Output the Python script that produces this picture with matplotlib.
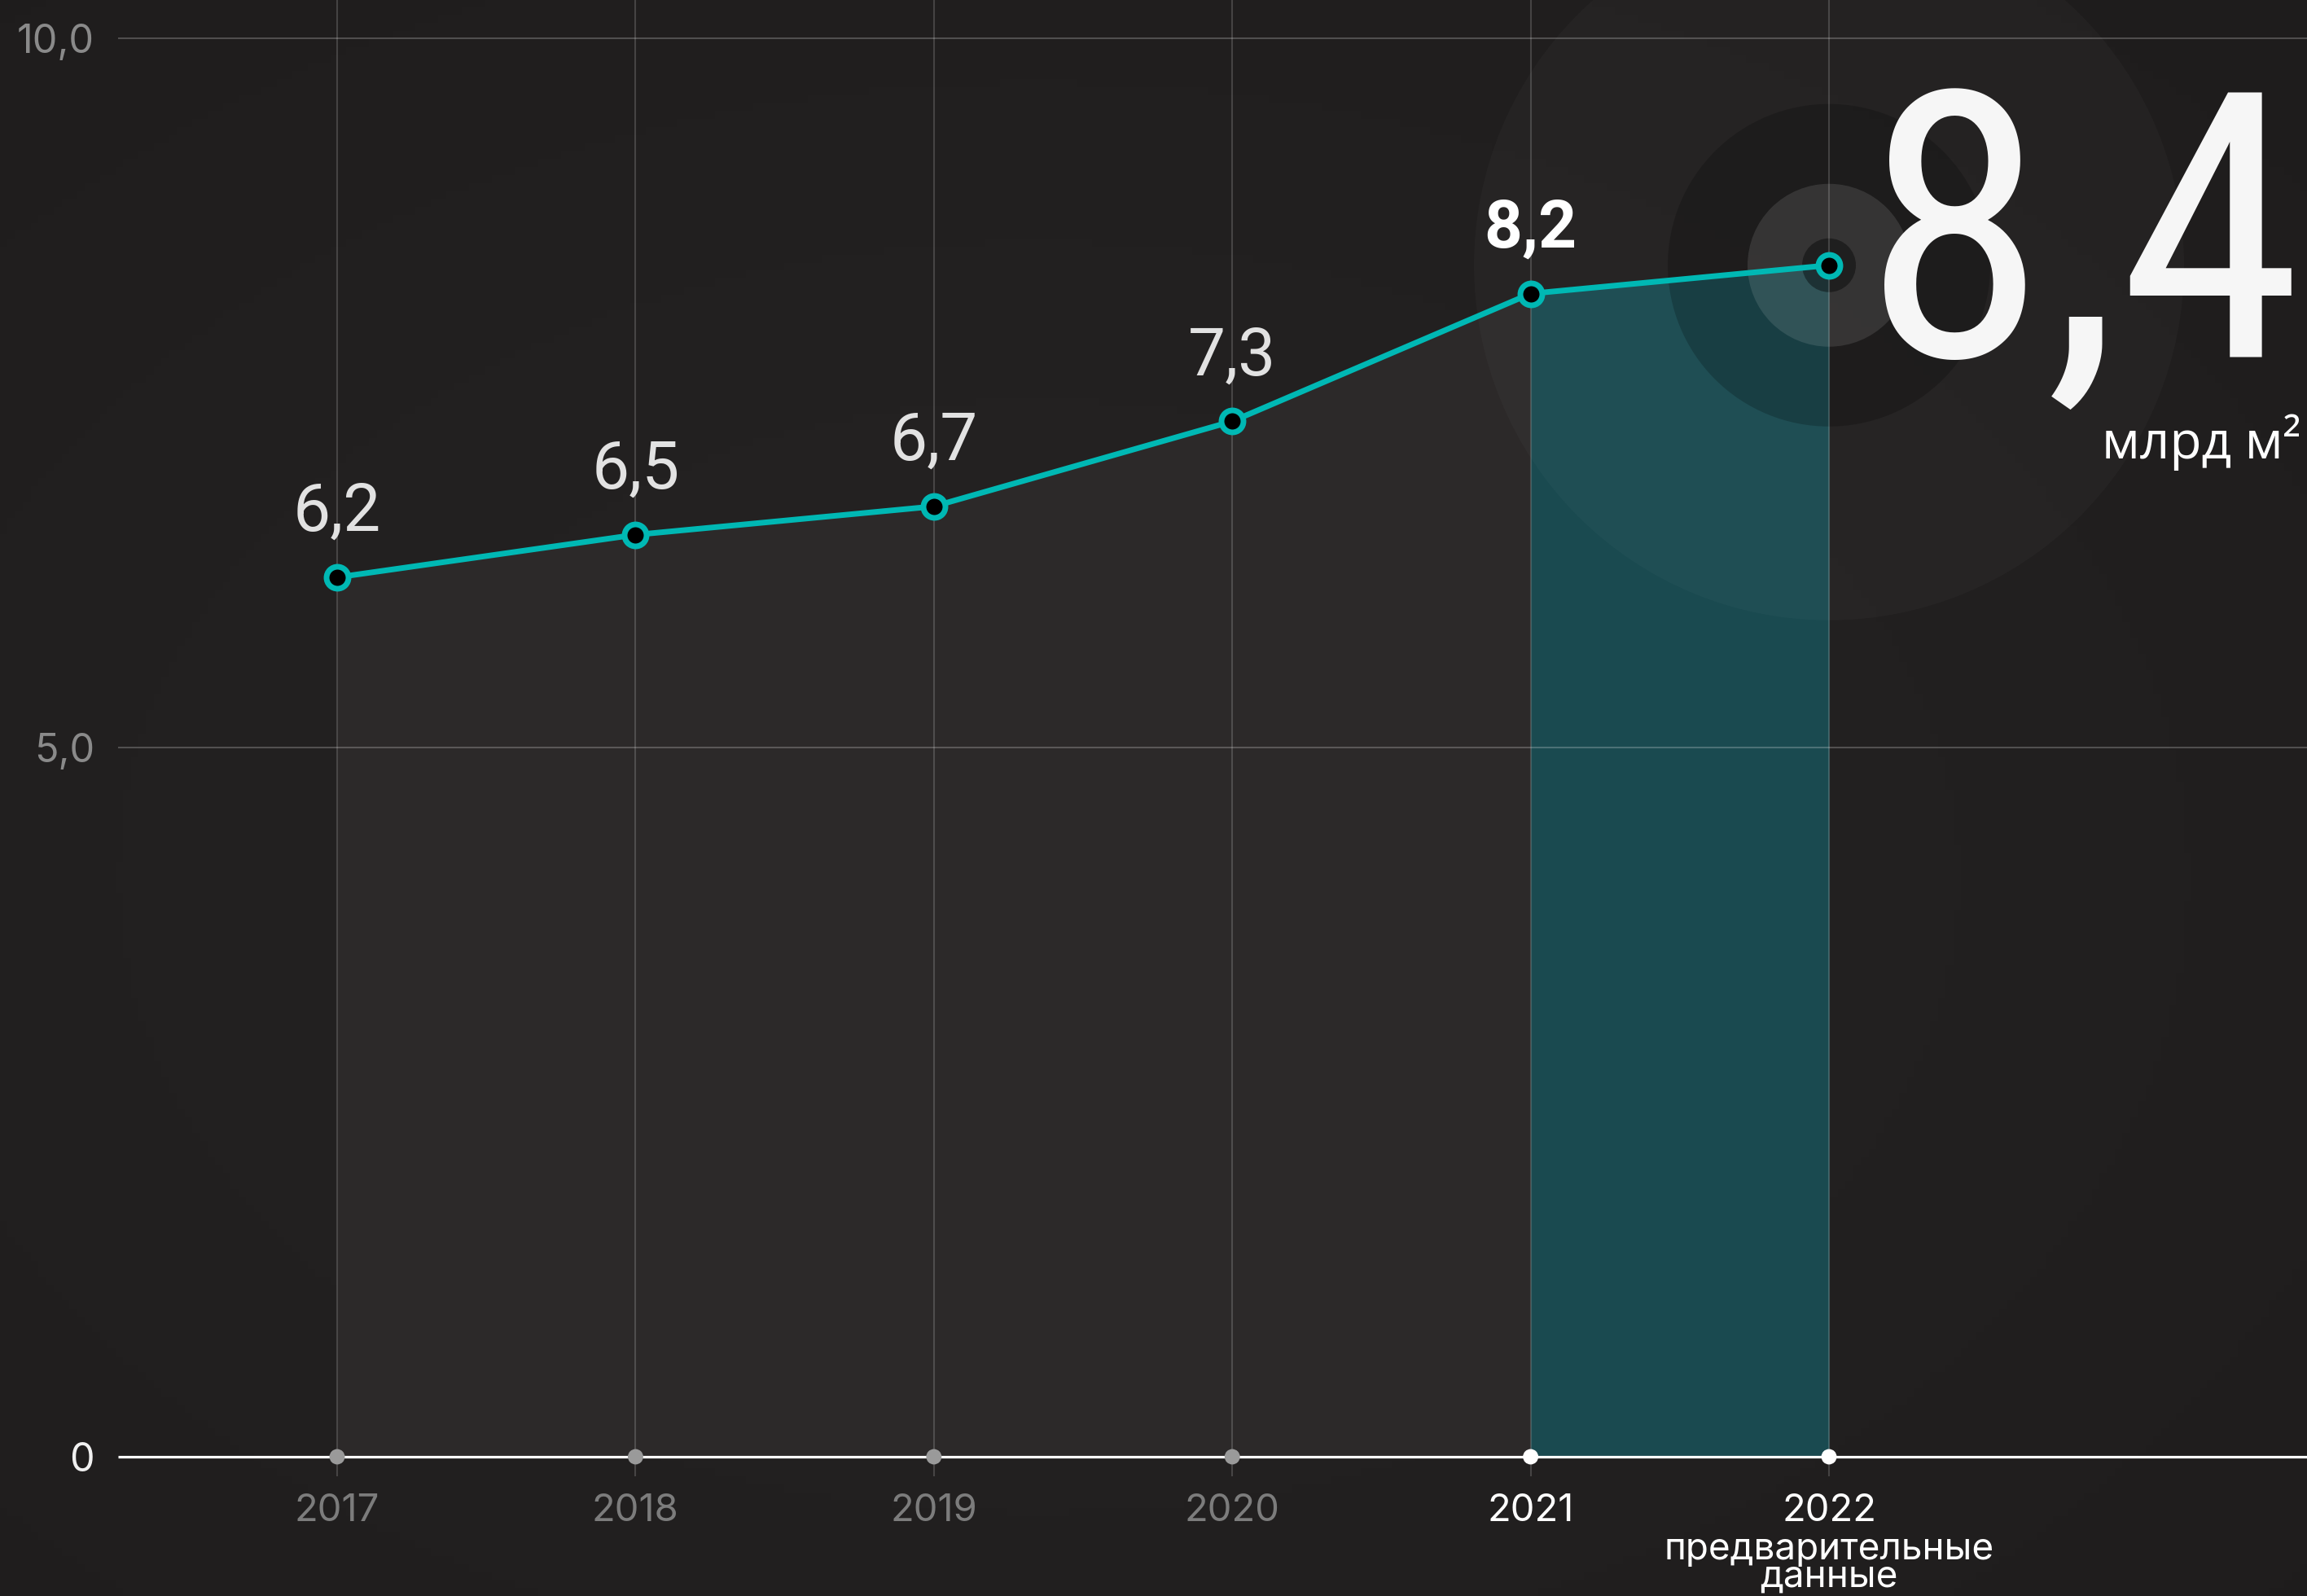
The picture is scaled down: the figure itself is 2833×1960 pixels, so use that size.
import matplotlib
matplotlib.use('agg')
import matplotlib.pyplot as plt
from matplotlib import font_manager
from matplotlib.font_manager import FontProperties
from matplotlib.patches import Ellipse
import numpy as np

# data
years = [2017, 2018, 2019, 2020, 2021, 2022]
values = [6.2, 6.5, 6.7, 7.3, 8.2, 8.4]
value_labels = ['6,2', '6,5', '6,7', '7,3', '8,2', '']
year_labels = ['2017', '2018', '2019', '2020', '2021', '2022']
y_ticks = [0, 5, 10]
y_tick_labels = ['0', '5,0', '10,0']
highlight_from = 2021
big_value = '8,4'
unit_label = 'млрд м²'
note_text = 'предварительные\nданные'

# fonts
names = {f.name for f in font_manager.fontManager.ttflist}
def pick(*cands):
    for c in cands:
        if c in names:
            return c
    return 'DejaVu Sans'

def find_condensed():
    # only trust a few known narrow faces
    wanted = ['robotocondensed-regular.ttf', 'liberationsansnarrow-regular.ttf',
              'dejavusanscondensed.ttf', 'notosans-condensed.ttf']
    files = {f.fname.split('/')[-1].lower(): f.fname for f in font_manager.fontManager.ttflist}
    for w in wanted:
        if w in files:
            return files[w]
    return None

cond = find_condensed()
if cond:
    big_prop = FontProperties(fname=cond, size=328)
else:
    big_prop = FontProperties(family=pick('Roboto', 'Open Sans'), size=310)

num_font = pick('Roboto', 'Open Sans')
axis_font = pick('Inter', 'Lato', 'Roboto')
unit_font = pick('Open Sans', 'Noto Sans', 'Roboto')

bg_col = '#211f1f'
teal = '#00b8b4'

fig = plt.figure(figsize=(28.33, 19.6), dpi=100)
fig.patch.set_facecolor(bg_col)

# soft background gradient
bg = fig.add_axes([0, 0, 1, 1], zorder=-5)
gx, gy = np.meshgrid(np.linspace(0, 1, 300), np.linspace(0, 1, 200))
rad = np.sqrt(((gx - 0.45) / 0.8) ** 2 + ((gy - 0.45) / 0.8) ** 2)
shade = np.clip(1 - rad, 0, 1)
base = np.array([0x1e, 0x1c, 0x1c]) / 255
top = np.array([0x26, 0x24, 0x24]) / 255
img = base + shade[..., None] * (top - base)
bg.imshow(img, extent=[0, 1, 0, 1], aspect='auto', origin='lower')
bg.axis('off')

ax = fig.add_axes([0, 0, 1, 1])
ax.set_facecolor('none')
ax.set_xlim(2015.870, 2023.602)
ax.set_ylim(-0.9816, 10.270)
ax.axis('off')

x_px = 2833 / (2023.602 - 2015.870)   # pixels per year
y_px = 1960 / (10.270 + 0.9816)       # pixels per unit
grid_start = 2016.266

hl = [y >= highlight_from for y in years]
idx = hl.index(True)

# area fills
ax.fill_between(years[:idx + 1], values[:idx + 1], 0, color='#2c2929', lw=0, zorder=1)
ax.fill_between(years[idx:], values[idx:], 0, color='#1a4a50', lw=0, zorder=1)

# rings around the last point
cx, cy = years[-1], values[-1]
for r, col, a in [(436, 'white', 0.025), (198, 'black', 0.2),
                  (100, 'white', 0.11), (33, 'black', 0.4)]:
    ax.add_patch(Ellipse((cx, cy), 2 * r / x_px, 2 * r / y_px,
                         facecolor=col, alpha=a, lw=0, zorder=1.5))

# grid
ax.hlines(y_ticks[1:], grid_start, 2023.602, color='white', alpha=0.22, lw=1.5, zorder=2)
ax.vlines(years, -0.138, 10.27, color='white', alpha=0.17, lw=1.5, zorder=2)
ax.hlines(0, grid_start, 2023.602, color='white', lw=2.3, zorder=2.5)

dot_cols = ['white' if h else '#9a9a9a' for h in hl]
ax.scatter(years, [0] * len(years), s=185, c=dot_cols, lw=0, zorder=3)

# line
ax.plot(years, values, color=teal, lw=5, zorder=4, solid_capstyle='round')
ax.plot(years, values, 'o', ms=19.4, mfc='black', mec=teal, mew=5, zorder=5)

# value labels
for x, v, lab, h in zip(years, values, value_labels, hl):
    if not lab:
        continue
    ax.annotate(lab, (x, v), xytext=(0, 41), textcoords='offset points',
                ha='center', va='baseline', fontsize=59, family=num_font,
                color='white' if h else '#e2e2e2',
                fontweight='bold' if h else 'normal', zorder=6)

# y labels
for v, lab in zip(y_ticks, y_tick_labels):
    ax.annotate(lab, (2016.187, v), xytext=(0, -13), textcoords='offset points',
                ha='right', va='baseline', fontsize=35, family=axis_font,
                color='#f0f0f0' if v == 0 else '#8a8a8a')

# year labels
for x, lab, h in zip(years, year_labels, hl):
    ax.annotate(lab, (x, 0), xytext=(0, -57), textcoords='offset points',
                ha='center', va='baseline', fontsize=34, family=axis_font,
                color='white' if h else '#7c7c7c')

ax.annotate(note_text, (years[-1], 0), xytext=(0, -121.5), textcoords='offset points',
            ha='center', va='bottom', fontsize=33, family=axis_font, color='white',
            linespacing=0.76, multialignment='center')

# headline number
fig.text(0.998, 0.7765, big_value, ha='right', va='baseline',
         fontproperties=big_prop, color='#f6f6f6')
fig.text(0.9975, 0.7128, unit_label, ha='right', va='baseline', fontsize=46,
         family=unit_font, color='white')

fig.savefig('out.png', dpi=100, facecolor=bg_col)
